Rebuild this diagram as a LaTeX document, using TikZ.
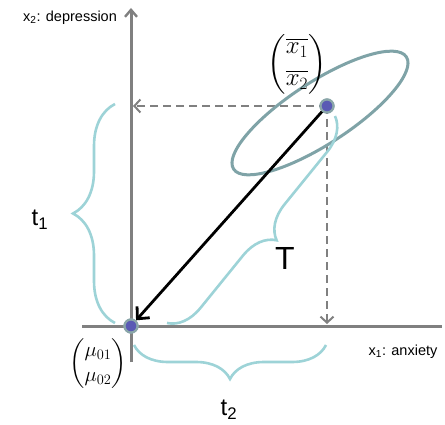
\documentclass[tikz,border=0pt]{standalone}
\usepackage{amsmath}
\usepackage{fontspec}
\setmainfont{Liberation Sans}
\usepackage{tikz}
\usetikzlibrary{arrows.meta,positioning,decorations.pathreplacing}
\definecolor{mvgray}{HTML}{808080}
\definecolor{mvteal}{HTML}{7FA3A7}
\definecolor{mvcyan}{HTML}{9DD3D7}
\definecolor{mvdot}{HTML}{5A5AB4}
\definecolor{mvring}{HTML}{8AA6A9}
\tikzset{
  axisline/.style={line width=3pt,draw=mvgray},
  dashflow/.style={-{Straight Barb[length=6pt,width=13pt,line width=2pt]},line width=2.2pt,
                   draw=mvgray,dash pattern=on 8pt off 5pt},
  vecflow/.style={-{Straight Barb[length=9pt,width=17pt,line width=2.8pt]},line width=2.8pt,draw=black},
  meanpoint/.style={circle,fill=mvdot,draw=mvring,line width=2.2pt,minimum size=13pt,inner sep=0pt},
  bracecurve/.style={decorate,draw=mvcyan,line width=2.6pt},
  scatterellipse/.style={draw=mvteal,line width=3pt},
  axislabel/.style={font=\fontsize{14.5}{17}\selectfont,inner sep=0pt},
  bracelabel/.style={font=\fontsize{24}{28}\selectfont,inner sep=0pt},
  veclabel/.style={inner sep=0pt}
}

\begin{document}
\begin{tikzpicture}[x=1pt,y=1pt]
    \useasboundingbox (0,0) rectangle (445,424);

    % axes
    \draw[axisline,-{Straight Barb[length=7pt,width=12pt,line width=2.4pt]}] (131,62) -- (131,416);
    \draw[axisline] (82,98) -- (442,98);

    \node[meanpoint] (mu) at (131,98) {};
    \node[meanpoint] (xbar) at (327,318) {};
    \coordinate (ytick) at (133,318);
    \coordinate (xtick) at (327,100);

    % projections of the sample mean
    \draw[dashflow] (xbar.center) -- (ytick);
    \draw[dashflow] (xbar.center) -- (xtick);

    \draw[scatterellipse,rotate around={33:(320,311)}] (320,311) ellipse [x radius=103,y radius=31];

    % braces
    \draw[bracecurve,decoration={brace,amplitude=42pt}] (115,101) -- (115,320);
    \draw[bracecurve,decoration={brace,amplitude=34pt}] (326,79) -- (134,79);
    \draw[bracecurve,decoration={brace,amplitude=33pt}] (335,308) -- (167,101);

    \draw[vecflow] (xbar.center) -- (mu);
    \node[meanpoint] at (mu) {};
    \node[meanpoint] at (xbar) {};

    \node[axislabel] (ylab) at (70,406) {x\textsubscript{2}: depression};
    \node[axislabel] (xlab) at (403,72) {x\textsubscript{1}: anxiety};
    \node[bracelabel,font=\fontsize{32}{36}\selectfont] (Tlab) at (285,166) {T};
    \node[bracelabel] (t1lab) at (40,204) {t\textsubscript{1}};
    \node[bracelabel] (t2lab) at (229,14) {t\textsubscript{2}};

    \node[veclabel,font=\fontsize{23}{28}\selectfont] (xbarlab) at (297,360)
      {$\begin{pmatrix}\overline{x_1}\\[4pt]\overline{x_2}\end{pmatrix}$};
    \node[veclabel,font=\fontsize{21}{25}\selectfont] (mulab) at (98,60)
      {$\begin{pmatrix}\mu_{01}\\[0pt]\mu_{02}\end{pmatrix}$};
  \end{tikzpicture}
\end{document}
